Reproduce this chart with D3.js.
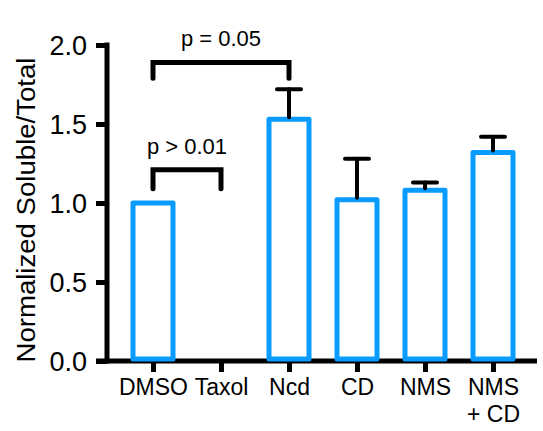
<!doctype html>
<html lang="en">
<head>
<meta charset="utf-8">
<script src="https://d3js.org/d3.v7.min.js"></script>
<style>
  body { margin: 0; background: #fff; }
  text { font-family: "Liberation Sans", Arial, Helvetica, sans-serif; fill: #000; }
</style>
</head>
<body>
<svg width="543" height="431"></svg>
<script>
  // chart values
  const categories = ["DMSO", "Taxol", "Ncd", "CD", "NMS", "NMS\n+ CD"];
  const means = [1.0, 0, 1.53, 1.02, 1.08, 1.32];
  const errTops = [null, null, 1.72, 1.28, 1.13, 1.42];
  const yTicks = [0, 0.5, 1.0, 1.5, 2.0];
  const comparisons = [
    { from: "DMSO", to: "Ncd", level: 1.89, drop: 0.1, label: "p = 0.05" },
    { from: "DMSO", to: "Taxol", level: 1.21, drop: 0.12, label: "p > 0.01" }
  ];

  const blue = "#0a9bff";
  const svg = d3.select("svg");

  const x = d3.scalePoint().domain(categories).range([153, 493]);
  const y = d3.scaleLinear().domain([0, 2]).range([361, 45]);
  const barW = 40;

  // y axis
  const yAxis = svg.append("g")
      .attr("transform", "translate(107,0)")
      .call(d3.axisLeft(y).tickValues(yTicks).tickFormat(d3.format(".1f")).tickSize(11).tickPadding(9));
  yAxis.select(".domain").remove();
  yAxis.selectAll(".tick line").attr("stroke", "#000").attr("stroke-width", 5);
  yAxis.selectAll(".tick text").style("font-size", "27px").attr("dy", "0.36em");
  yAxis.append("line")
      .attr("x1", 0).attr("x2", 0)
      .attr("y1", y(2) - 2.5).attr("y2", y(0) + 2.5)
      .attr("stroke", "#000").attr("stroke-width", 5);

  // x axis
  const xAxis = svg.append("g")
      .attr("transform", "translate(0,361)")
      .call(d3.axisBottom(x).tickSize(11).tickFormat(""));
  xAxis.select(".domain").remove();
  xAxis.selectAll(".tick line").attr("stroke", "#000").attr("stroke-width", 5);
  xAxis.append("line")
      .attr("x1", 96).attr("x2", 537)
      .attr("y1", 0).attr("y2", 0)
      .attr("stroke", "#000").attr("stroke-width", 5);
  xAxis.selectAll(".tick").each(function(d) {
    const lines = d.split("\n");
    const t = d3.select(this).append("text")
        .attr("text-anchor", "middle")
        .style("font-size", "23px");
    lines.forEach((s, i) => {
      t.append("tspan").attr("x", 0).attr("y", 34 + i * 27).text(s);
    });
  });

  // bars
  const data = categories.map((c, i) => ({ c, v: means[i], e: errTops[i] }));
  svg.append("g").selectAll("rect")
    .data(data.filter(d => d.v > 0))
    .join("rect")
      .attr("x", d => x(d.c) - barW / 2)
      .attr("width", barW)
      .attr("y", d => y(d.v))
      .attr("height", d => y(0) - y(d.v) - 2)
      .attr("fill", "#fff")
      .attr("stroke", blue)
      .attr("stroke-width", 5)
      .attr("stroke-linejoin", "round");

  // error bars (upper only)
  const err = svg.append("g").attr("stroke", "#000").attr("stroke-width", 4).attr("stroke-linecap", "round");
  data.filter(d => d.e != null).forEach(d => {
    err.append("line")
      .attr("x1", x(d.c)).attr("x2", x(d.c))
      .attr("y1", y(d.v) - 2).attr("y2", y(d.e));
    err.append("line")
      .attr("x1", x(d.c) - 12).attr("x2", x(d.c) + 12)
      .attr("y1", y(d.e)).attr("y2", y(d.e));
  });

  // significance brackets
  comparisons.forEach(cmp => {
    const x1 = x(cmp.from), x2 = x(cmp.to);
    const yt = y(cmp.level), yb = y(cmp.level - cmp.drop);
    svg.append("path")
      .attr("d", `M${x1},${yb}V${yt}H${x2}V${yb}`)
      .attr("fill", "none")
      .attr("stroke", "#000")
      .attr("stroke-width", 5)
      .attr("stroke-linecap", "round");
    svg.append("text")
      .attr("x", (x1 + x2) / 2)
      .attr("y", yt - 16)
      .attr("text-anchor", "middle")
      .style("font-size", "22px")
      .text(cmp.label);
  });

  // y axis title
  svg.append("text")
    .attr("transform", "translate(35,210) rotate(-90)")
    .attr("text-anchor", "middle")
    .attr("textLength", 305)
    .attr("lengthAdjust", "spacingAndGlyphs")
    .style("font-size", "25px")
    .text("Normalized Soluble/Total");
</script>
</body>
</html>
